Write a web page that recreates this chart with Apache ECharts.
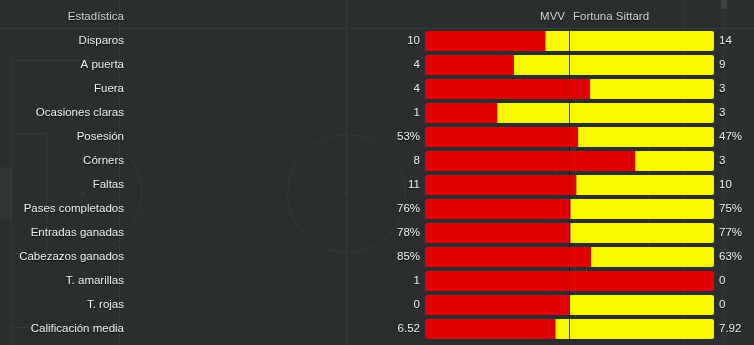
<!DOCTYPE html>
<html>
<head>
<meta charset="utf-8">
<script src="https://cdn.jsdelivr.net/npm/echarts@6/dist/echarts.min.js"></script>
<style>
  html, body { margin: 0; padding: 0; background: #2b2e2f; }
  #chart { width: 754px; height: 345px; }
</style>
</head>
<body>
<div id="chart"></div>
<script>
// Match statistics: MVV (home) vs Fortuna Sittard (away)
const categories = ['Disparos', 'A puerta', 'Fuera', 'Ocasiones claras', 'Posesión', 'Córners', 'Faltas',
  'Pases completados', 'Entradas ganadas', 'Cabezazos ganados', 'T. amarillas', 'T. rojas', 'Calificación media'];
const homeValues = [10, 4, 4, 1, 53, 8, 11, 76, 78, 85, 1, 0, 6.52];
const awayValues = [14, 9, 3, 3, 47, 3, 10, 75, 77, 63, 0, 0, 7.92];
const units = ['', '', '', '', '%', '', '', '%', '%', '%', '', '', ''];
const homeTeam = 'MVV';
const awayTeam = 'Fortuna Sittard';

const homeLabels = homeValues.map((v, i) => String(v) + units[i]);
const awayLabels = awayValues.map((v, i) => String(v) + units[i]);

// share of each row that belongs to the home side (even split when both are zero)
const homeShare = homeValues.map((h, i) => {
  const total = h + awayValues[i];
  return total === 0 ? 0.5 : h / total;
});

const RED = '#e00000';
const YELLOW = '#f8f800';
const LINE = '#363939';
const TEXT = '#f2f2f2';
const FONT = '"Liberation Sans", Arial, sans-serif';
const shadow = { textShadowColor: 'rgba(0,0,0,0.75)', textShadowBlur: 1, textShadowOffsetY: 1 };

const chart = echarts.init(document.getElementById('chart'), null, { renderer: 'canvas' });

// pitch markings drawn faintly behind the table
const pitch = [];
function seg(x1, y1, x2, y2) {
  pitch.push({ type: 'line', silent: true, z: -10, shape: { x1, y1, x2, y2 }, style: { stroke: LINE, lineWidth: 1 } });
}
function arc(cx, cy, r, a0, a1) {
  pitch.push({ type: 'arc', silent: true, z: -10, shape: { cx, cy, r, startAngle: a0, endAngle: a1 }, style: { stroke: LINE, lineWidth: 1, fill: null } });
}
function dot(cx, cy) {
  pitch.push({ type: 'circle', silent: true, z: -10, shape: { cx, cy, r: 2 }, style: { fill: LINE } });
}
seg(0, 28.5, 754, 28.5);
seg(346.5, 0, 346.5, 345);
arc(346.5, 193.5, 59, 0, Math.PI * 2);
dot(346.5, 193.5);
// left end
seg(11.5, 60, 11.5, 345);
seg(11.5, 60.5, 119.5, 60.5);
seg(119.5, 0, 119.5, 345);
seg(11.5, 327.5, 119.5, 327.5);
seg(11.5, 133.5, 46.5, 133.5);
seg(46.5, 133.5, 46.5, 253.5);
seg(11.5, 253.5, 46.5, 253.5);
arc(83, 193.5, 59, -Math.PI * 0.36, Math.PI * 0.36);
dot(83, 193.5);
pitch.push({ type: 'rect', silent: true, z: -10, shape: { x: 0, y: 167, width: 11, height: 53 }, style: { fill: 'rgba(255,255,255,0.03)' } });
// right end
seg(683.5, 0, 683.5, 345);
seg(575.5, 60.5, 683.5, 60.5);
seg(575.5, 60, 575.5, 327);
seg(575.5, 327.5, 683.5, 327.5);
seg(648.5, 133.5, 683.5, 133.5);
seg(648.5, 133.5, 648.5, 253.5);
seg(648.5, 253.5, 683.5, 253.5);
arc(611, 193.5, 59, Math.PI * 0.64, Math.PI * 1.36);
// narrow strip at the right edge
pitch.push({ type: 'rect', silent: true, z: -10, shape: { x: 721, y: 0, width: 6, height: 345 }, style: { fill: 'rgba(255,255,255,0.025)' } });
pitch.push({ type: 'rect', silent: true, z: -10, shape: { x: 721, y: 0, width: 6, height: 9 }, style: { fill: 'rgba(255,255,255,0.08)' } });

const headerStyle = { verticalAlign: 'middle', fill: '#d4d7d9', font: '11.5px ' + FONT, ...shadow };
const headers = [
  { type: 'text', z: 10, style: { x: 124, y: 17, text: 'Estadística', align: 'right', ...headerStyle } },
  { type: 'text', z: 10, style: { x: 565, y: 17, text: homeTeam, align: 'right', ...headerStyle } },
  { type: 'text', z: 10, style: { x: 573, y: 17, text: awayTeam, align: 'left', ...headerStyle } }
];

const labelFont = { fontFamily: FONT, fontSize: 11.5, color: TEXT, ...shadow };
const hiddenAxis = { axisLine: { show: false }, axisTick: { show: false }, splitLine: { show: false } };

const option = {
  backgroundColor: '#2b2e2f',
  animation: false,
  graphic: pitch.concat(headers),
  grid: { left: 425, right: 40, top: 29, bottom: 4, containLabel: false },
  xAxis: { type: 'value', min: 0, max: 1, show: false },
  yAxis: [
    { type: 'category', data: categories, inverse: true, ...hiddenAxis, axisLabel: { margin: 301, ...labelFont } },
    { type: 'category', data: homeLabels, inverse: true, position: 'left', ...hiddenAxis, axisLabel: { margin: 5, ...labelFont } },
    { type: 'category', data: awayLabels, inverse: true, position: 'right', ...hiddenAxis, axisLabel: { margin: 5, ...labelFont } }
  ],
  series: [
    {
      name: homeTeam, type: 'bar', stack: 'share', barWidth: 20, yAxisIndex: 0, silent: true,
      data: homeShare.map(s => ({
        value: s,
        itemStyle: { color: RED, borderRadius: s >= 1 ? 2 : [2, 0, 0, 2] }
      }))
    },
    {
      name: awayTeam, type: 'bar', stack: 'share', barWidth: 20, yAxisIndex: 0, silent: true,
      data: homeShare.map(s => ({
        value: 1 - s,
        itemStyle: { color: YELLOW, borderRadius: s <= 0 ? 2 : [0, 2, 2, 0] }
      })),
      markLine: {
        silent: true, symbol: 'none', label: { show: false },
        lineStyle: { color: 'rgba(30,30,30,0.85)', width: 1, type: 'solid' },
        data: [{ xAxis: 0.5 }]
      }
    }
  ]
};

chart.setOption(option);
</script>
</body>
</html>
